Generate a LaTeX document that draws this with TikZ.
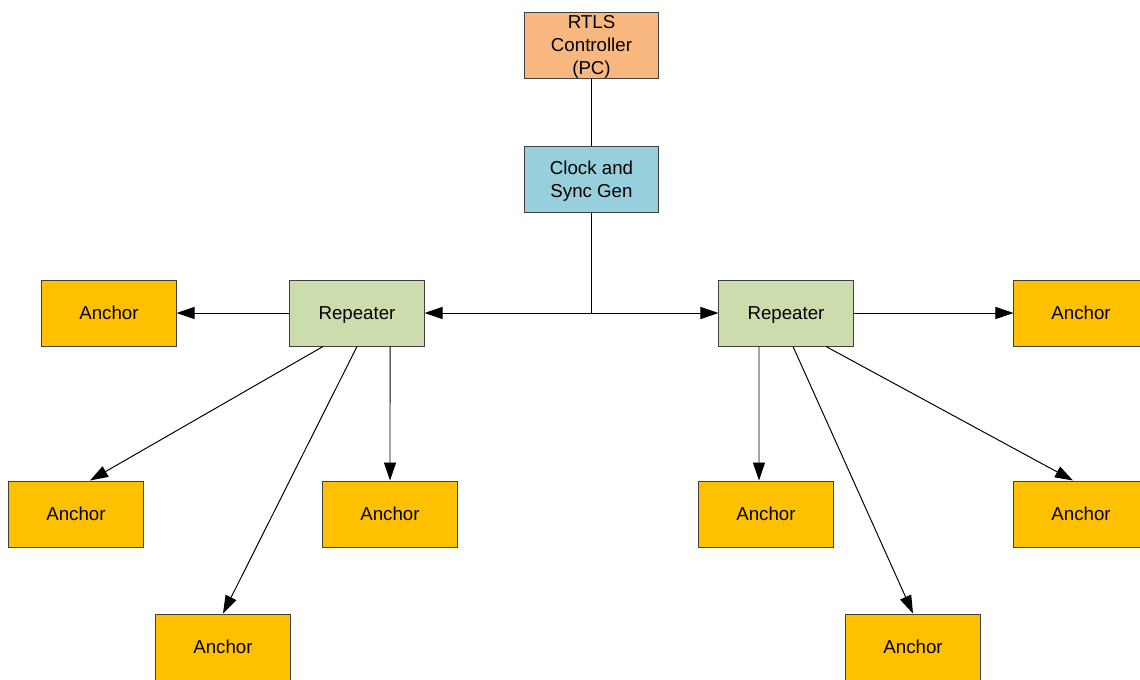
\documentclass[tikz,border=0pt]{standalone}
\usepackage{fontspec}
\setmainfont{Liberation Sans}
\usetikzlibrary{arrows.meta}
\definecolor{pcorange}{RGB}{249,183,128}
\definecolor{clockblue}{RGB}{151,207,221}
\definecolor{repgreen}{RGB}{205,220,172}
\definecolor{anchoryellow}{RGB}{255,192,0}
\definecolor{boxline}{RGB}{64,64,64}
\tikzset{
	unit/.style={draw=boxline, line width=0.7pt, minimum width=3.35cm, minimum height=1.65cm, inner sep=0pt, align=center, text depth=0pt, font=\fontsize{13.3}{16.4}\selectfont},
	link/.style={line width=0.7pt, -{Triangle[length=0.45cm,width=0.3cm]}}
}
\begin{document}
\begin{tikzpicture}[x=0.025cm,y=-0.025cm]
	\useasboundingbox (0,0) rectangle (1140,679);
	\node[unit, fill=pcorange] (rtls) at (591.5,45) {RTLS\\Controller\\(PC)};
	\node[unit, fill=clockblue] (clock) at (591.5,179) {Clock and\\Sync Gen};
	\node[unit, fill=repgreen] (repL) at (357,313) {Repeater};
	\node[unit, fill=repgreen] (repR) at (786,313) {Repeater};
	\node[unit, fill=anchoryellow] (ancLa) at (109,313) {Anchor};
	\node[unit, fill=anchoryellow] (ancLb) at (76,514) {Anchor};
	\node[unit, fill=anchoryellow] (ancLc) at (390,514) {Anchor};
	\node[unit, fill=anchoryellow] (ancLd) at (223,647) {Anchor};
	\node[unit, fill=anchoryellow] (ancRa) at (1081,313) {Anchor};
	\node[unit, fill=anchoryellow] (ancRb) at (766,514) {Anchor};
	\node[unit, fill=anchoryellow] (ancRc) at (1081,514) {Anchor};
	\node[unit, fill=anchoryellow] (ancRd) at (913,647) {Anchor};
	\coordinate (split) at (591.5,313);
	\draw[line width=0.7pt] (rtls) -- (clock);
	\draw[line width=0.7pt] (clock) -- (split);
	\draw[link] (split) -- (repL);
	\draw[link] (split) -- (repR);
	\draw[link] (repL) -- (ancLa);
	\draw[link] ([xshift=-0.85cm]repL.south) -- ([xshift=0.35cm]ancLb.north);
	\draw[link] (repL.south) -- (ancLd.north);
	\draw[link] ([xshift=0.825cm]repL.south) -- (ancLc.north);
	\draw[link] (repR) -- (ancRa);
	\draw[link] ([xshift=-0.675cm]repR.south) -- ([xshift=-0.175cm]ancRb.north);
	\draw[link] ([xshift=0.175cm]repR.south) -- (ancRd.north);
	\draw[link] ([xshift=1cm]repR.south) -- ([xshift=-0.2cm]ancRc.north);
\end{tikzpicture}
\end{document}
